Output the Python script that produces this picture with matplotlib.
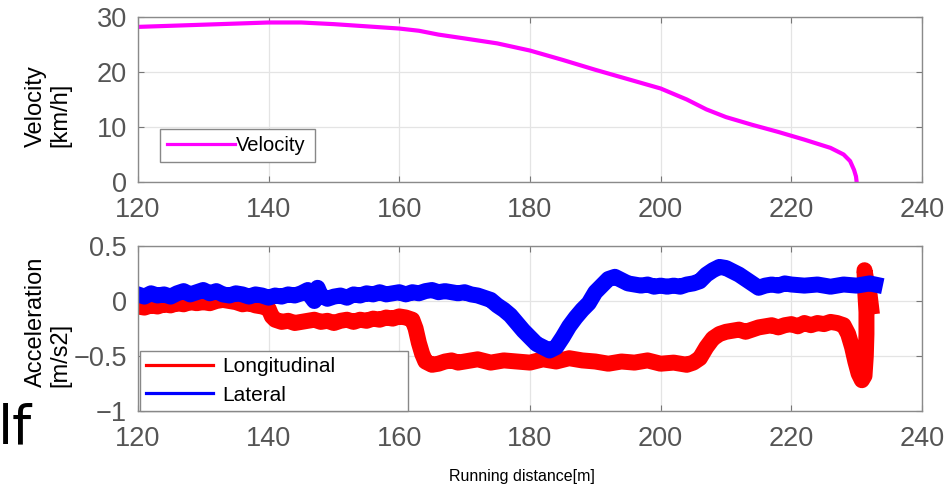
import numpy as np
import matplotlib
matplotlib.use("Agg")
import matplotlib.pyplot as plt
from matplotlib.lines import Line2D

# data
vel_x = [120, 125, 130, 135, 140, 145, 150, 155, 160, 163, 166, 170, 175, 180,
         185, 190, 195, 200, 204, 207, 210, 214, 218, 222, 226, 228, 229, 229.6,
         229.9, 230.0]
vel_v = [28.2, 28.4, 28.6, 28.8, 29.0, 29.0, 28.7, 28.3, 27.9, 27.5, 26.8, 26.1,
         25.2, 23.9, 22.2, 20.4, 18.7, 17.0, 15.0, 13.2, 11.8, 10.4, 9.1, 7.7,
         6.2, 5.0, 3.8, 2.2, 1.0, 0.0]

lon_x = [120, 121, 122, 123, 124, 125, 126, 127, 128, 129, 130, 131, 132, 133,
         134, 135, 136, 137, 138, 139, 140, 140.5, 141, 142, 143, 144, 145, 146,
         147, 148, 149, 150, 151, 152, 153, 154, 155, 156, 157, 158, 159, 160,
         161, 162, 162.5, 163, 163.5, 164, 165, 166, 167, 168, 169, 170, 172,
         174, 176, 178, 180, 182, 184, 186, 188, 190, 192, 194, 196, 198, 200,
         202, 204, 205, 206, 207, 208, 209, 210, 211, 212, 213, 214, 215, 216,
         217, 218, 219, 220, 221, 222, 223, 224, 225, 226, 227, 228, 228.7,
         229.3, 229.8, 230.3, 230.8, 231.2, 231.4, 231.5, 231.5, 231.3, 231.2,
         231.6, 232.0, 232.2]
lon_a = [-0.05, -0.06, -0.04, -0.05, -0.03, -0.04, -0.02, -0.03, -0.01, -0.02,
         -0.01, -0.02, 0.0, 0.01, 0.0, -0.01, -0.03, -0.02, -0.04, -0.05, -0.07,
         -0.14, -0.17, -0.19, -0.18, -0.2, -0.19, -0.18, -0.17, -0.19, -0.18,
         -0.2, -0.18, -0.17, -0.19, -0.17, -0.18, -0.16, -0.17, -0.15, -0.16,
         -0.14, -0.15, -0.17, -0.25, -0.38, -0.48, -0.55, -0.58, -0.57, -0.55,
         -0.54, -0.56, -0.55, -0.53, -0.56, -0.54, -0.55, -0.56, -0.53, -0.55,
         -0.52, -0.54, -0.55, -0.57, -0.55, -0.56, -0.54, -0.57, -0.56, -0.58,
         -0.56, -0.52, -0.42, -0.34, -0.3, -0.28, -0.27, -0.26, -0.28, -0.26,
         -0.24, -0.23, -0.22, -0.24, -0.22, -0.21, -0.23, -0.2, -0.22, -0.2,
         -0.21, -0.19, -0.2, -0.22, -0.3, -0.42, -0.55, -0.66, -0.72, -0.68,
         -0.5, -0.3, -0.1, 0.1, 0.28, 0.15, 0.05, -0.05]

lat_x = [120, 121, 122, 123, 124, 125, 126, 127, 128, 129, 130, 131, 132, 133,
         134, 135, 136, 137, 138, 139, 140, 141, 142, 143, 144, 145, 146, 146.5,
         147, 147.5, 148, 149, 150, 151, 152, 153, 154, 155, 156, 157, 158, 159,
         160, 161, 162, 163, 164, 165, 166, 167, 168, 169, 170, 171, 172, 173,
         174, 175, 176, 177, 178, 179, 180, 181, 182, 183, 184, 185, 186, 187,
         188, 189, 190, 191, 192, 193, 194, 195, 196, 197, 198, 199, 200, 201,
         202, 203, 204, 205, 206, 207, 208, 209, 210, 211, 212, 213, 214, 215,
         216, 217, 218, 219, 220, 222, 224, 226, 228, 230, 232, 232.8]
lat_a = [0.06, 0.04, 0.07, 0.05, 0.06, 0.04, 0.07, 0.09, 0.06, 0.08, 0.1, 0.07,
         0.09, 0.06, 0.05, 0.07, 0.06, 0.04, 0.06, 0.05, 0.03, 0.05, 0.04, 0.06,
         0.05, 0.07, 0.1, 0.04, 0.0, 0.12, 0.05, 0.02, 0.04, 0.05, 0.03, 0.06,
         0.05, 0.07, 0.06, 0.08, 0.06, 0.07, 0.08, 0.06, 0.08, 0.07, 0.09, 0.1,
         0.08, 0.09, 0.08, 0.07, 0.08, 0.06, 0.05, 0.03, 0.01, -0.04, -0.08,
         -0.13, -0.2, -0.27, -0.33, -0.39, -0.42, -0.45, -0.42, -0.33, -0.23,
         -0.15, -0.08, -0.02, 0.08, 0.14, 0.2, 0.22, 0.19, 0.16, 0.15, 0.14,
         0.15, 0.13, 0.14, 0.13, 0.14, 0.13, 0.15, 0.16, 0.18, 0.24, 0.28, 0.31,
         0.3, 0.27, 0.24, 0.2, 0.16, 0.12, 0.14, 0.15, 0.14, 0.16, 0.15, 0.14,
         0.15, 0.13, 0.15, 0.14, 0.16, 0.15]

x_ticks = [120, 140, 160, 180, 200, 220, 240]
v_ticks = [0, 10, 20, 30]
a_ticks = [-1, -0.5, 0, 0.5]

plt.rcParams['font.family'] = ['Liberation Sans', 'DejaVu Sans']

fig = plt.figure(figsize=(9.51, 4.94), dpi=100)
ax1 = fig.add_axes([0.145, 0.6316, 0.8245, 0.334])
ax2 = fig.add_axes([0.145, 0.168, 0.8245, 0.334])

ax1.plot(vel_x, vel_v, color='#ff00ff', lw=3.0, solid_capstyle='round')
ax2.plot(lon_x, lon_a, color='#ff0000', lw=11.5, solid_joinstyle='round')
ax2.plot(lat_x, lat_a, color='#0000ff', lw=11.5, solid_joinstyle='round')

ax1.set_ylim(0, 30)
ax1.set_yticks(v_ticks)
ax2.set_ylim(-1, 0.5)
ax2.set_yticks(a_ticks)
ax2.set_yticklabels(['\u22121', '\u22120.5', '0', '0.5'])

for ax in (ax1, ax2):
    ax.set_xlim(120, 240)
    ax.set_xticks(x_ticks)
    ax.grid(True, color='#e4e4e4', lw=0.9)
    ax.set_axisbelow(True)
    ax.tick_params(direction='in', length=4, width=0.8, color='#777777',
                   labelsize=19.5, labelcolor='#555555',
                   top=True, right=True)
    ax.tick_params(axis='x', pad=11)
    ax.tick_params(axis='y', pad=8)
    for s in ax.spines.values():
        s.set_color('#8a8a8a')
        s.set_linewidth(1.0)

h1 = [Line2D([], [], color='#ff00ff', lw=2.3)]
leg1 = ax1.legend(h1, ['Velocity'], loc='lower left',
                  bbox_to_anchor=(0.028, 0.121, 0.198, 0.24), mode='expand',
                  borderaxespad=0, fontsize=14.5, handlelength=3.4,
                  handletextpad=0.05, borderpad=0.35, fancybox=False,
                  framealpha=1)
leg1.get_frame().set_edgecolor('#888888')

h2 = [Line2D([], [], color='#ff0000', lw=2.3),
      Line2D([], [], color='#0000ff', lw=2.3)]
leg2 = ax2.legend(h2, ['Longitudinal', 'Lateral'], loc='lower left',
                  bbox_to_anchor=(0.003, 0.0, 0.341, 0.4), mode='expand',
                  borderaxespad=0, fontsize=15, handlelength=3.2,
                  handletextpad=0.45, borderpad=0.3, labelspacing=0.45,
                  fancybox=False, framealpha=1)
leg2.get_frame().set_edgecolor('#888888')

fig.text(48 / 951, 1 - 147 / 494, 'Velocity\n[km/h]', rotation=90,
         ha='center', va='bottom', multialignment='left', fontsize=17,
         linespacing=1.15)
fig.text(48 / 951, 1 - 387 / 494, 'Acceleration\n[m/s2]', rotation=90,
         ha='center', va='bottom', multialignment='left', fontsize=17,
         linespacing=1.15)
fig.text(522 / 951, 1 - 476 / 494, 'Running distance[m]', ha='center',
         va='center', fontsize=11.5)
fig.text(-0.002, 1 - 443 / 494, 'lf', ha='left', va='baseline', fontsize=39,
         family='DejaVu Sans')

fig.savefig('out.png', dpi=100)
